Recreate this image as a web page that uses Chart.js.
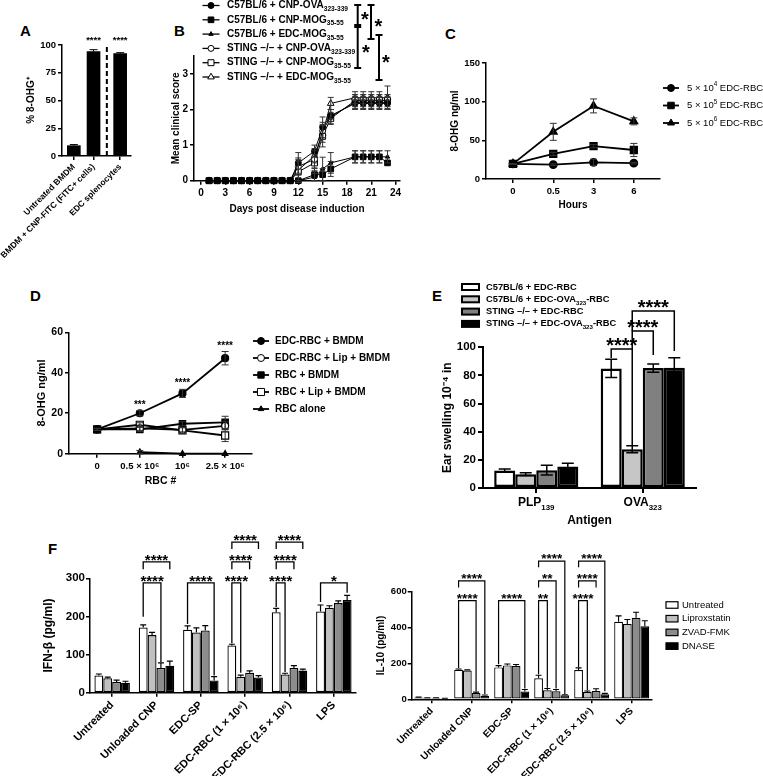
<!DOCTYPE html>
<html>
<head>
<meta charset="utf-8">
<title>Figure</title>
<script src="https://cdn.jsdelivr.net/npm/chart.js@4.4.1/dist/chart.umd.min.js"></script>
<style>
  html, body { margin: 0; padding: 0; background: #fff; }
  body { position: relative; width: 763px; height: 776px; overflow: hidden; font-family: 'Liberation Sans', Arial, sans-serif; }
  canvas { position: absolute; }
  .panel { position: absolute; font-weight: bold; font-size: 15px; line-height: 15px; color: #000; }
</style>
</head>
<body>
<div class="panel" style="left:20px;top:23px">A</div>
<div class="panel" style="left:174px;top:23px">B</div>
<div class="panel" style="left:445px;top:26px">C</div>
<div class="panel" style="left:30px;top:288px">D</div>
<div class="panel" style="left:432px;top:288px">E</div>
<div class="panel" style="left:48px;top:541px">F</div>
<canvas id="chartA"></canvas>
<canvas id="chartB"></canvas>
<canvas id="chartC"></canvas>
<canvas id="chartD"></canvas>
<canvas id="chartE"></canvas>
<canvas id="chartF1"></canvas>
<canvas id="chartF2"></canvas>
<script>
// ---------- data ----------
// A: % 8-OHG+ cells
const aLabels = ['Untreated BMDM', 'BMDM + CNP-FITC (FITC+ cells)', 'EDC splenocytes'];
const aValues = [9.3, 94, 92.3];
const aErrors = [1, 1.8, 0.8];
const aStars = ['', '****', '****'];

// B: mean clinical score
const bDays = [1, 2, 3, 4, 5, 6, 7, 8, 9, 10, 11, 12, 14, 15, 16, 19, 20, 21, 22, 23];
const bNames = [
  'C57BL/6 + CNP-OVA_{323-339}',
  'C57BL/6 + CNP-MOG_{35-55}',
  'C57BL/6 + EDC-MOG_{35-55}',
  'STING –/– + CNP-OVA_{323-339}',
  'STING –/– + CNP-MOG_{35-55}',
  'STING –/– + EDC-MOG_{35-55}'
];
const bValues = [
  [0, 0, 0, 0, 0, 0, 0, 0, 0, 0, 0, 0.5, 0.83, 1.5, 1.83, 2.17, 2.17, 2.17, 2.17, 2.17],
  [0, 0, 0, 0, 0, 0, 0, 0, 0, 0, 0, 0, 0.17, 0.17, 0.33, 0.67, 0.67, 0.67, 0.67, 0.5],
  [0, 0, 0, 0, 0, 0, 0, 0, 0, 0, 0, 0, 0.1, 0.33, 0.5, 0.67, 0.67, 0.67, 0.67, 0.67],
  [0, 0, 0, 0, 0, 0, 0, 0, 0, 0, 0, 0.4, 0.6, 1.4, 1.8, 2.2, 2.2, 2.2, 2.2, 2.2],
  [0, 0, 0, 0, 0, 0, 0, 0, 0, 0, 0, 0.25, 0.5, 1.25, 1.75, 2.25, 2.25, 2.25, 2.25, 2.25],
  [0, 0, 0, 0, 0, 0, 0, 0, 0, 0, 0, 0.3, 0.7, 1.33, 2.17, 2.33, 2.33, 2.33, 2.33, 2.33]
];
const bErrors = [
  [0, 0, 0, 0, 0, 0, 0, 0, 0, 0, 0, 0.29, 0.17, 0.29, 0.17, 0.17, 0.17, 0.17, 0.17, 0.17],
  [0, 0, 0, 0, 0, 0, 0, 0, 0, 0, 0, 0, 0.17, 0.17, 0.21, 0.17, 0.17, 0.17, 0.17, 0],
  [0, 0, 0, 0, 0, 0, 0, 0, 0, 0, 0, 0, 0.1, 0.33, 0.29, 0.17, 0.17, 0.17, 0.17, 0.17],
  [0, 0, 0, 0, 0, 0, 0, 0, 0, 0, 0, 0.24, 0.24, 0.24, 0.2, 0.17, 0.17, 0.17, 0.17, 0.17],
  [0, 0, 0, 0, 0, 0, 0, 0, 0, 0, 0, 0.3, 0.22, 0.3, 0.17, 0.17, 0.17, 0.17, 0.17, 0.17],
  [0, 0, 0, 0, 0, 0, 0, 0, 0, 0, 0, 0.3, 0.2, 0.25, 0.17, 0.17, 0.17, 0.17, 0.17, 0.33]
];

// C: 8-OHG over time
const cHours = ['0', '0.5', '3', '6'];
const cNames = ['5 × 10^{4} EDC-RBC', '5 × 10^{5} EDC-RBC', '5 × 10^{6} EDC-RBC'];
const cValues = [
  [19.5, 18.5, 21.5, 20.5],
  [19.5, 32.5, 42.5, 37.5],
  [19.5, 61, 94.5, 74.5]
];
const cErrors = [
  [0.5, 1, 4, 1],
  [0.5, 2, 2, 8.5],
  [0.5, 11, 9, 4.5]
];

// D: 8-OHG vs RBC number
const dTicks = ['0', '0.5 × 10⁶', '10⁶', '2.5 × 10⁶'];
const dNames = ['EDC-RBC + BMDM', 'EDC-RBC + Lip + BMDM', 'RBC + BMDM', 'RBC + Lip + BMDM', 'RBC alone'];
const dValues = [
  [12, 20, 29.8, 47.2],
  [12, 12.5, 11.8, 13.8],
  [12, 12, 14.8, 15.5],
  [12, 14.3, 11.5, 9],
  [null, 0.8, 0, 0]
];
const dErrors = [
  [0.5, 1.3, 2, 3.3],
  [0.5, 1, 1, 2],
  [0.5, 1, 1, 3],
  [0.5, 1, 1.5, 3],
  [0, 0.8, 0, 0]
];
const dStars = ['', '***', '****', '****'];

// E: ear swelling
const eGroups = ['PLP_{139}', 'OVA_{323}'];
const eNames = ['C57BL/6 + EDC-RBC', 'C57BL/6 + EDC-OVA_{323}-RBC', 'STING –/– + EDC-RBC', 'STING –/– + EDC-OVA_{323}-RBC'];
const eValues = [[12.5, 85], [9.8, 27.5], [12.7, 85.2], [15.3, 85.5]];
const eErrors = [[1, 6.5], [1, 2.5], [3.5, 3], [2.3, 7]];
// [group, from series, to series, bracket level, left drop, right drop, label]
const eSig = [
  [1, 0, 1, 98.8, 92.4, 30.6, '****'],
  [1, 1, 2, 111.6, 98.8, 94.5, '****'],
  [1, 1, 3, 125.8, 111.6, 97.4, '****']
];

// F: cytokines
const fGroups = ['Untreated', 'Unloaded CNP', 'EDC-SP', 'EDC-RBC (1 × 10⁶)', 'EDC-RBC (2.5 × 10⁶)', 'LPS'];
const fTreatments = ['Untreated', 'Liproxstatin', 'ZVAD-FMK', 'DNASE'];
const ifnValues = [
  [45, 171, 165, 124, 211, 213],
  [38, 151, 158, 42, 48, 223],
  [28, 65, 163, 52, 65, 235],
  [26, 71, 32, 40, 58, 243]
];
const ifnErrors = [
  [4, 7, 10, 3, 10, 17],
  [3, 7, 12, 4, 3, 5],
  [5, 13, 13, 5, 6, 6],
  [4, 12, 10, 5, 4, 12]
];
const il10Values = [
  [10, 165, 178, 117, 163, 432],
  [8, 160, 189, 50, 41, 420],
  [8, 35, 186, 45, 46, 455],
  [5, 20, 43, 22, 28, 408]
];
const il10Errors = [
  [2, 4, 10, 17, 12, 33],
  [1, 4, 8, 10, 5, 25],
  [1, 5, 8, 10, 13, 30],
  [1, 4, 12, 3, 5, 30]
];
const ifnSig = [
  [1, 0, 2, 288, 199, 80, '****'],
  [1, 0, 3, 343, 324, 324, '****'],
  [2, 0, 3, 288, 180, 45, '****'],
  [3, 0, 1, 288, 130, 52, '****'],
  [3, 0, 2, 343, 324, 324, '****'],
  [3, 0, 3, 395, 377, 377, '****'],
  [4, 0, 1, 288, 225, 54, '****'],
  [4, 0, 2, 343, 324, 324, '****'],
  [4, 0, 3, 395, 377, 377, '****'],
  [5, 0, 3, 288, 238, 262, '*']
];
const il10Sig = [
  [1, 0, 2, 550, 175, 45, '****'],
  [1, 0, 3, 660, 624, 30, '****'],
  [2, 0, 3, 550, 195, 60, '****'],
  [3, 0, 1, 550, 140, 65, '**'],
  [3, 0, 2, 660, 624, 60, '**'],
  [3, 0, 3, 771, 737, 30, '****'],
  [4, 0, 1, 550, 180, 50, '****'],
  [4, 0, 2, 660, 624, 624, '****'],
  [4, 0, 3, 771, 737, 45, '****']
];

// ---------- helpers ----------
const FONT = "'Liberation Sans', Arial, Helvetica, sans-serif";
const font = (size, bold) => (bold ? 'bold ' : '') + size + 'px ' + FONT;
const plain = s => s.replace(/[_^]\{([^}]*)\}/g, '$1');

// split "text_{sub}text^{sup}" into parts
function parts(s) {
  const out = [];
  const re = /([_^])\{([^}]*)\}/g;
  let last = 0, m;
  while ((m = re.exec(s))) {
    if (m.index > last) out.push({t: s.slice(last, m.index)});
    out.push({t: m[2], sub: m[1] === '_', sup: m[1] === '^'});
    last = re.lastIndex;
  }
  if (last < s.length) out.push({t: s.slice(last)});
  return out;
}

function richText(ctx, str, x, y, size, bold, align) {
  const items = parts(str);
  ctx.save();
  ctx.fillStyle = '#000';
  ctx.textBaseline = 'middle';
  ctx.textAlign = 'left';
  let w = 0;
  items.forEach(it => {
    it.size = it.sub || it.sup ? size * 0.66 : size;
    ctx.font = font(it.size, bold);
    it.w = ctx.measureText(it.t).width;
    w += it.w;
  });
  let cx = align === 'center' ? x - w / 2 : x;
  items.forEach(it => {
    ctx.font = font(it.size, bold);
    const dy = it.sub ? size * 0.38 : it.sup ? -size * 0.36 : 0;
    ctx.fillText(it.t, cx, y + dy);
    cx += it.w;
  });
  ctx.restore();
}

function drawMarker(ctx, style, x, y, r, fill) {
  ctx.save();
  ctx.beginPath();
  if (style === 'rect') {
    const h = r * Math.SQRT1_2;
    ctx.rect(x - h, y - h, 2 * h, 2 * h);
  } else if (style === 'triangle') {
    ctx.moveTo(x, y - r);
    ctx.lineTo(x + r * 0.866, y + r * 0.5);
    ctx.lineTo(x - r * 0.866, y + r * 0.5);
    ctx.closePath();
  } else {
    ctx.arc(x, y, r, 0, Math.PI * 2);
  }
  ctx.fillStyle = fill;
  ctx.fill();
  ctx.lineWidth = 1;
  ctx.strokeStyle = '#000';
  ctx.stroke();
  ctx.restore();
}

function setup(id, box) {
  const c = document.getElementById(id);
  c.width = box.w;
  c.height = box.h;
  c.style.left = box.x + 'px';
  c.style.top = box.y + 'px';
  return c;
}

function layoutFor(box, area) {
  return {
    padding: {left: 0, top: area.t - box.y, right: box.x + box.w - area.r, bottom: 0},
    yWidth: area.l - box.x,
    xHeight: box.y + box.h - area.b
  };
}

function makeAxis(o) {
  const ax = {
    type: o.type || 'linear',
    offset: !!o.offset,
    grid: {display: true, drawOnChartArea: false, drawTicks: true, tickLength: o.tickLength || 4,
           color: '#000', lineWidth: o.lw || 1.5, offset: false},
    border: {display: true, color: '#000', width: o.lw || 1.5},
    ticks: {color: '#000', font: {family: FONT, weight: 'bold', size: o.tickSize || 10},
            padding: o.tickPad != null ? o.tickPad : 2, autoSkip: false,
            maxRotation: o.rot || 0, minRotation: o.rot || 0},
    title: {display: false},
    afterFit: s => {
      if (s.isHorizontal()) s.height = o.size; else s.width = o.size;
    }
  };
  if (o.min != null) ax.min = o.min;
  if (o.max != null) ax.max = o.max;
  if (o.cb) ax.ticks.callback = o.cb;
  if (o.tickValues) ax.afterBuildTicks = s => { s.ticks = o.tickValues.map(v => ({value: v})); };
  if (o.title) {
    ax.title = {display: true, text: o.title, color: '#000',
                font: {family: FONT, weight: 'bold', size: o.titleSize || 10}, padding: o.titlePad};
  }
  return ax;
}

function baseOptions(L, scales) {
  return {
    responsive: false, animation: false, events: [],
    layout: {padding: L.padding},
    plugins: {legend: {display: false}, tooltip: {enabled: false}},
    scales: scales
  };
}

// error bars from dataset.errors
const errorBars = {
  id: 'errorBars',
  afterDatasetsDraw(chart) {
    const ctx = chart.ctx, ys = chart.scales.y;
    chart.data.datasets.forEach((ds, i) => {
      if (!ds.errors) return;
      const meta = chart.getDatasetMeta(i);
      ctx.save();
      ctx.strokeStyle = ds.errorColor || '#000';
      ctx.lineWidth = ds.errorWidth || 1;
      meta.data.forEach((el, j) => {
        const v = ds.data[j], e = ds.errors[j];
        if (v == null || !e) return;
        const x = el.x, cap = ds.errorCap || 3;
        const top = ys.getPixelForValue(v + e);
        const bot = ds.errorUp ? ys.getPixelForValue(v) : ys.getPixelForValue(v - e);
        ctx.beginPath();
        ctx.moveTo(x, top); ctx.lineTo(x, bot);
        ctx.moveTo(x - cap, top); ctx.lineTo(x + cap, top);
        if (!ds.errorUp) { ctx.moveTo(x - cap, bot); ctx.lineTo(x + cap, bot); }
        ctx.stroke();
      });
      ctx.restore();
    });
  }
};

// significance brackets between grouped bars
function brackets(items, o) {
  return {
    id: 'brackets',
    afterDatasetsDraw(chart) {
      const ctx = chart.ctx, ys = chart.scales.y;
      ctx.save();
      ctx.strokeStyle = '#000';
      ctx.fillStyle = '#000';
      ctx.lineWidth = o.lw;
      ctx.font = font(o.size, true);
      ctx.textAlign = 'center';
      ctx.textBaseline = 'alphabetic';
      items.forEach(([g, a, b, level, dropA, dropB, label]) => {
        const xa = chart.getDatasetMeta(a).data[g].x;
        const xb = chart.getDatasetMeta(b).data[g].x;
        const yl = ys.getPixelForValue(level);
        ctx.beginPath();
        ctx.moveTo(xa, ys.getPixelForValue(dropA));
        ctx.lineTo(xa, yl);
        ctx.lineTo(xb, yl);
        ctx.lineTo(xb, ys.getPixelForValue(dropB));
        ctx.stroke();
        ctx.fillText(label, (xa + xb) / 2, yl + o.dy);
      });
      ctx.restore();
    }
  };
}

function lineLegend(names, o) {
  return {
    id: 'lineLegend',
    afterDraw(chart) {
      const ctx = chart.ctx;
      chart.data.datasets.forEach((ds, i) => {
        const y = o.y + i * o.dy;
        ctx.save();
        ctx.strokeStyle = '#000';
        ctx.lineWidth = o.lw;
        ctx.beginPath();
        ctx.moveTo(o.x - o.half, y);
        ctx.lineTo(o.x + o.half, y);
        ctx.stroke();
        ctx.restore();
        drawMarker(ctx, ds.pointStyle, o.x, y, ds.pointRadius, ds.pointBackgroundColor);
        richText(ctx, names[i], o.tx, y, o.size, o.bold, 'left');
      });
    }
  };
}

function boxLegend(names, o) {
  return {
    id: 'boxLegend',
    afterDraw(chart) {
      const ctx = chart.ctx;
      chart.data.datasets.forEach((ds, i) => {
        const y = o.y + i * o.dy;
        ctx.save();
        ctx.fillStyle = ds.backgroundColor;
        ctx.strokeStyle = '#000';
        ctx.lineWidth = o.lw;
        ctx.fillRect(o.x, y - o.h / 2, o.w, o.h);
        ctx.strokeRect(o.x, y - o.h / 2, o.w, o.h);
        ctx.restore();
        richText(ctx, names[i], o.tx, y, o.size, o.bold, 'left');
      });
    }
  };
}

// stars above points of one dataset
function starsAbove(labels, o) {
  return {
    id: 'starsAbove',
    afterDatasetsDraw(chart) {
      const ctx = chart.ctx, ys = chart.scales.y;
      const ds = chart.data.datasets[o.ds || 0];
      const meta = chart.getDatasetMeta(o.ds || 0);
      ctx.save();
      ctx.fillStyle = '#000';
      ctx.font = font(o.size, true);
      ctx.textAlign = 'center';
      ctx.textBaseline = 'alphabetic';
      labels.forEach((lab, j) => {
        if (!lab) return;
        const v = o.atValue != null ? o.atValue : ds.data[j] + (ds.errors ? ds.errors[j] : 0);
        ctx.fillText(lab, meta.data[j].x, ys.getPixelForValue(v) + o.dy);
      });
      ctx.restore();
    }
  };
}

// ---------- A ----------
(function () {
  const box = {x: 0, y: 0, w: 190, h: 270};
  const L = layoutFor(box, {l: 62, t: 45, r: 131, b: 156});
  // positions: a gap after the dashed divider
  const aPos = aLabels.map((_, i) => i + (i > 1 ? 0.35 : 0));
  const divider = {
    id: 'divider',
    afterDatasetsDraw(chart) {
      const ctx = chart.ctx;
      const x = chart.scales.x.getPixelForValue((aPos[1] + aPos[2]) / 2);
      ctx.save();
      ctx.strokeStyle = '#000';
      ctx.lineWidth = 2;
      ctx.setLineDash([5, 3]);
      ctx.beginPath();
      ctx.moveTo(x, chart.chartArea.top + 2);
      ctx.lineTo(x, chart.chartArea.bottom);
      ctx.stroke();
      ctx.restore();
    }
  };
  new Chart(setup('chartA', box), {
    type: 'bar',
    data: {
      labels: aPos,
      datasets: [{label: '% 8-OHG+', data: aValues, errors: aErrors, errorUp: true, errorCap: 4,
                  backgroundColor: '#000', borderWidth: 0, barThickness: 13}]
    },
    options: baseOptions(L, {
      x: makeAxis({min: -0.6, max: 2.9, size: L.xHeight, tickValues: aPos, cb: (v, i) => aLabels[i],
                   rot: 45, tickSize: 8.5}),
      y: makeAxis({min: 0, max: 100, size: L.yWidth, tickValues: [0, 25, 50, 75, 100], tickSize: 9.5,
                   title: '% 8-OHG⁺', titleSize: 10, titlePad: {top: 25, bottom: 0}})
    }),
    plugins: [errorBars, divider, starsAbove(aStars, {size: 9.5, atValue: 100, dy: -2})]
  });
})();

// ---------- B ----------
(function () {
  const box = {x: 168, y: 0, w: 240, h: 222};
  const L = layoutFor(box, {l: 194, t: 56.1, r: 400, b: 180.7});
  const looks = [['circle', '#000', 3], ['rect', '#000', 4], ['triangle', '#000', 2.5],
                 ['circle', '#fff', 3], ['rect', '#fff', 4.2], ['triangle', '#fff', 3.8]];
  const datasets = bValues.map((vals, i) => ({
    label: plain(bNames[i]), data: vals, errors: bErrors[i], errorColor: '#333', errorWidth: 1, errorCap: 3,
    borderColor: '#000', borderWidth: 1, pointStyle: looks[i][0], pointBackgroundColor: looks[i][1],
    pointBorderColor: '#000', pointBorderWidth: 1, pointRadius: looks[i][2], clip: false
  }));
  // comparison bars at top right: [x offset from plot right, y1, y2, star x offset, star y]
  const marks = {
    id: 'bMarks',
    afterDraw(chart) {
      const ctx = chart.ctx, R = chart.chartArea.right;
      const list = [[-42.3, 5, 25, -35, 15], [-29, 5, 39, -21.5, 22], [-42.3, 27, 68, -34, 48], [-21, 35, 80, -14, 58]];
      ctx.save();
      ctx.strokeStyle = '#000';
      ctx.fillStyle = '#000';
      ctx.lineWidth = 2;
      ctx.font = font(20, true);
      ctx.textAlign = 'center';
      ctx.textBaseline = 'alphabetic';
      list.forEach(([dx, y1, y2, sx, sy]) => {
        const x = R + dx;
        ctx.beginPath();
        ctx.moveTo(x, y1); ctx.lineTo(x, y2);
        ctx.moveTo(x - 3.5, y1); ctx.lineTo(x + 3.5, y1);
        ctx.moveTo(x - 3.5, y2); ctx.lineTo(x + 3.5, y2);
        ctx.stroke();
        ctx.fillText('*', R + sx, sy + 11);
      });
      ctx.restore();
    }
  };
  new Chart(setup('chartB', box), {
    type: 'line',
    data: {labels: bDays, datasets: datasets},
    options: baseOptions(L, {
      x: makeAxis({min: -0.86, max: 24.54, size: L.xHeight, tickValues: [0, 3, 6, 9, 12, 15, 18, 21, 24],
                   tickSize: 10, tickPad: 3, title: 'Days post disease induction', titleSize: 10,
                   titlePad: {top: 0, bottom: 7}}),
      y: makeAxis({min: 0, max: 3.5, size: L.yWidth, tickValues: [0, 1, 2, 3], tickSize: 10, tickPad: 2,
                   title: 'Mean clinical score', titleSize: 10, titlePad: {top: 2, bottom: 0}})
    }),
    plugins: [errorBars, marks,
              lineLegend(bNames, {x: 211 - box.x, tx: 227 - box.x, y: 5.5, dy: 14.3, half: 8.5, lw: 1.3, size: 10, bold: true})]
  });
})();

// ---------- C ----------
(function () {
  const box = {x: 420, y: 40, w: 343, h: 175};
  const L = layoutFor(box, {l: 486, t: 63, r: 660, b: 179});
  const looks = [['circle', 3.5], ['rect', 4.6], ['triangle', 4]];
  const datasets = cValues.map((vals, i) => ({
    label: plain(cNames[i]), data: vals, errors: cErrors[i], errorColor: '#333', errorWidth: 1, errorCap: 3.5,
    borderColor: '#000', borderWidth: 1.8, pointStyle: looks[i][0], pointBackgroundColor: '#000',
    pointBorderColor: '#000', pointRadius: looks[i][1], clip: false
  }));
  new Chart(setup('chartC', box), {
    type: 'line',
    data: {labels: cHours.map((_, i) => i), datasets: datasets},
    options: baseOptions(L, {
      x: makeAxis({min: -0.67, max: 3.65, size: L.xHeight, tickValues: [0, 1, 2, 3], cb: (v, i) => cHours[i],
                   tickSize: 9.5, tickPad: 3, title: 'Hours', titleSize: 10, titlePad: {top: 0, bottom: 4}}),
      y: makeAxis({min: 0, max: 150, size: L.yWidth, tickValues: [0, 50, 100, 150], tickSize: 9.5,
                   title: '8-OHG ng/ml', titleSize: 10, titlePad: {top: 29, bottom: 0}})
    }),
    plugins: [errorBars,
              lineLegend(cNames, {x: 671 - box.x, tx: 687 - box.x, y: 88 - box.y, dy: 17.5, half: 8, lw: 1.8, size: 9.5, bold: false})]
  });
})();

// ---------- D ----------
(function () {
  const box = {x: 0, y: 300, w: 430, h: 190};
  const L = layoutFor(box, {l: 69, t: 332.3, r: 252, b: 453.7});
  const looks = [['circle', '#000', 3.5], ['circle', '#fff', 3.5], ['rect', '#000', 4.5],
                 ['rect', '#fff', 5], ['triangle', '#000', 3.2]];
  const datasets = dValues.map((vals, i) => ({
    label: dNames[i], data: vals, errors: dErrors[i], errorColor: '#333', errorWidth: 1, errorCap: 3.5,
    borderColor: '#000', borderWidth: 1.8, pointStyle: looks[i][0], pointBackgroundColor: looks[i][1],
    pointBorderColor: '#000', pointBorderWidth: 1.2, pointRadius: looks[i][2], clip: false
  }));
  new Chart(setup('chartD', box), {
    type: 'line',
    data: {labels: dTicks.map((_, i) => i), datasets: datasets},
    options: baseOptions(L, {
      x: makeAxis({min: -0.66, max: 3.63, size: L.xHeight, tickValues: [0, 1, 2, 3], cb: (v, i) => dTicks[i],
                   tickSize: 9.5, tickPad: 3, title: 'RBC #', titleSize: 10.5, titlePad: {top: 0, bottom: 3}}),
      y: makeAxis({min: 0, max: 60, size: L.yWidth, tickValues: [0, 20, 40, 60], tickSize: 10.5,
                   title: '8-OHG ng/ml', titleSize: 11, titlePad: {top: 35, bottom: 0}})
    }),
    plugins: [errorBars, starsAbove(dStars, {ds: 0, size: 10, dy: -3}),
              lineLegend(dNames, {x: 261 - box.x, tx: 275 - box.x, y: 341 - box.y, dy: 17, half: 8, lw: 1.8, size: 10, bold: true})]
  });
})();

// ---------- E ----------
(function () {
  const box = {x: 380, y: 275, w: 383, h: 255};
  const L = layoutFor(box, {l: 483, t: 347.3, r: 696, b: 488});
  const fills = ['#ffffff', '#c6c6c6', '#808080', '#000000'];
  const datasets = eValues.map((vals, i) => ({
    label: plain(eNames[i]), data: vals, errors: eErrors[i], errorWidth: 1.5, errorCap: 6,
    backgroundColor: fills[i], borderColor: '#000', borderWidth: 2.5, borderSkipped: false,
    categoryPercentage: 0.79, barPercentage: 1
  }));
  const groupLabels = {
    id: 'eGroupLabels',
    afterDraw(chart) {
      const xs = chart.scales.x;
      eGroups.forEach((g, i) => richText(chart.ctx, g, xs.getPixelForTick(i), 503 - box.y, 12, true, 'center'));
    }
  };
  new Chart(setup('chartE', box), {
    type: 'bar',
    data: {labels: eGroups.map(plain), datasets: datasets},
    options: baseOptions(L, {
      x: makeAxis({type: 'category', offset: true, size: L.xHeight, cb: () => '', lw: 2, tickLength: 5,
                   title: 'Antigen', titleSize: 12, titlePad: {top: 0, bottom: 2}}),
      y: makeAxis({min: 0, max: 100, size: L.yWidth, tickValues: [0, 20, 40, 60, 80, 100], tickSize: 11.5, lw: 2,
                   tickLength: 5, title: 'Ear swelling 10⁻⁴ in', titleSize: 12, titlePad: {top: 60, bottom: 0}})
    }),
    plugins: [errorBars, brackets(eSig, {lw: 1.5, size: 20, dy: 3}), groupLabels,
              boxLegend(eNames, {x: 462 - box.x, tx: 486 - box.x, y: 287 - box.y, dy: 12.3, w: 17, h: 6, lw: 2, size: 9.3, bold: true})]
  });
})();

// ---------- F (IFN-beta) ----------
const fFills = ['#ffffff', '#c0c0c0', '#8c8c8c', '#000000'];
(function () {
  const box = {x: 0, y: 520, w: 380, h: 256};
  const L = layoutFor(box, {l: 90, t: 578.3, r: 356, b: 692.7});
  const datasets = ifnValues.map((vals, i) => ({
    label: fTreatments[i], data: vals, errors: ifnErrors[i], errorUp: true, errorWidth: 1.2, errorCap: 3,
    backgroundColor: fFills[i], borderColor: '#000', borderWidth: 1.3, borderSkipped: false,
    categoryPercentage: 0.8, barPercentage: 1
  }));
  new Chart(setup('chartF1', box), {
    type: 'bar',
    data: {labels: fGroups, datasets: datasets},
    options: baseOptions(L, {
      x: makeAxis({type: 'category', offset: true, size: L.xHeight, rot: 45, tickSize: 11, tickPad: 2}),
      y: makeAxis({min: 0, max: 300, size: L.yWidth, tickValues: [0, 100, 200, 300], tickSize: 11.5, tickPad: 1,
                   title: 'IFN-β (pg/ml)', titleSize: 12, titlePad: {top: 41, bottom: 0}})
    }),
    plugins: [errorBars, brackets(ifnSig, {lw: 1.3, size: 15, dy: 3})]
  });
})();

// ---------- F (IL-10) ----------
(function () {
  const box = {x: 366, y: 520, w: 397, h: 256};
  const L = layoutFor(box, {l: 411.7, t: 591.7, r: 651.7, b: 699.3});
  const datasets = il10Values.map((vals, i) => ({
    label: fTreatments[i], data: vals, errors: il10Errors[i], errorUp: true, errorWidth: 1.1, errorCap: 3,
    backgroundColor: fFills[i], borderColor: '#000', borderWidth: 1.2, borderSkipped: false,
    categoryPercentage: 0.875, barPercentage: 1
  }));
  new Chart(setup('chartF2', box), {
    type: 'bar',
    data: {labels: fGroups, datasets: datasets},
    options: baseOptions(L, {
      x: makeAxis({type: 'category', offset: true, size: L.xHeight, rot: 45, tickSize: 10, tickPad: 2}),
      y: makeAxis({min: 0, max: 600, size: L.yWidth, tickValues: [0, 200, 400, 600], tickSize: 9.5, tickPad: 1,
                   title: 'IL-10 (pg/ml)', titleSize: 10, titlePad: {top: 9, bottom: 0}})
    }),
    plugins: [errorBars, brackets(il10Sig, {lw: 1.2, size: 13.5, dy: 2}),
              boxLegend(fTreatments, {x: 666 - box.x, tx: 682 - box.x, y: 605 - box.y, dy: 13.7, w: 12, h: 6.5, lw: 1.2, size: 9.5, bold: false})]
  });
})();
</script>
</body>
</html>
